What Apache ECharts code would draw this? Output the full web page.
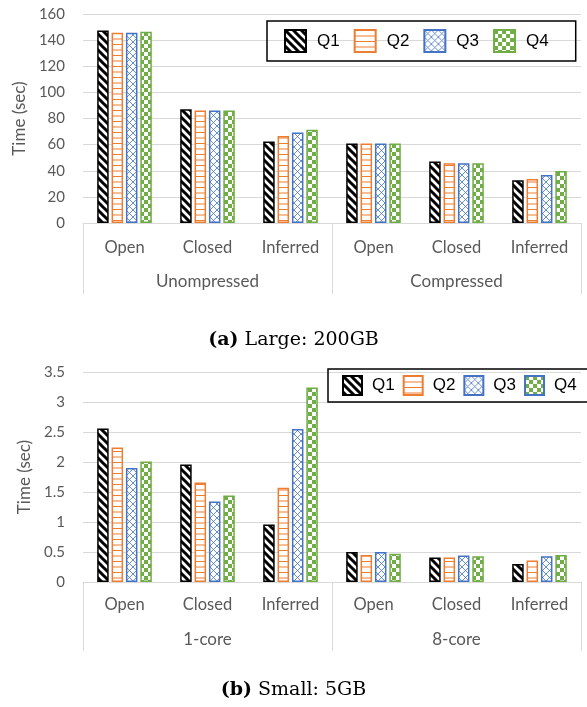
<!DOCTYPE html>
<html>
<head>
<meta charset="utf-8">
<script src="https://cdn.jsdelivr.net/npm/echarts@6/dist/echarts.min.js"></script>
<style>
  html, body { margin: 0; padding: 0; background: #fff; }
  #main { width: 587px; height: 707px; }
</style>
</head>
<body>
<div id="main"></div>
<script>
// categories
var methods = ['Open', 'Closed', 'Inferred', 'Open', 'Closed', 'Inferred'];
var largeGroups = ['Unompressed', 'Compressed'];
var smallGroups = ['1-core', '8-core'];
var queries = ['Q1', 'Q2', 'Q3', 'Q4'];

// (a) Large: 200GB, time in sec
var largeQ1 = [147.4, 87.1, 62.4, 60.8, 47.0, 32.7];
var largeQ2 = [145.6, 86.1, 66.6, 60.8, 45.8, 33.7];
var largeQ3 = [145.6, 86.1, 69.3, 60.8, 45.8, 36.7];
var largeQ4 = [146.4, 86.1, 71.4, 60.8, 45.8, 39.8];

// (b) Small: 5GB, time in sec
var smallQ1 = [2.56, 1.96, 0.96, 0.50, 0.41, 0.30];
var smallQ2 = [2.24, 1.66, 1.57, 0.45, 0.41, 0.36];
var smallQ3 = [1.90, 1.34, 2.55, 0.50, 0.44, 0.43];
var smallQ4 = [2.01, 1.44, 3.24, 0.47, 0.43, 0.45];

// pattern fills, like the excel hatch fills
function makePattern(kind) {
    var c = document.createElement('canvas');
    var ctx = c.getContext('2d');
    if (kind === 'diag') {
        c.width = 8; c.height = 8;
        ctx.fillStyle = '#fff'; ctx.fillRect(0, 0, 8, 8);
        ctx.strokeStyle = '#000'; ctx.lineWidth = 3;
        ctx.beginPath();
        ctx.moveTo(-4, -4); ctx.lineTo(12, 12);
        ctx.moveTo(-4, 4); ctx.lineTo(4, 12);
        ctx.moveTo(4, -4); ctx.lineTo(12, 4);
        ctx.stroke();
    } else if (kind === 'horiz') {
        c.width = 4; c.height = 11;
        ctx.fillStyle = '#fff'; ctx.fillRect(0, 0, 4, 11);
        ctx.fillStyle = '#ED7D31';
        ctx.fillRect(0, 0, 4, 1);
        ctx.fillRect(0, 5.5, 4, 1);
    } else if (kind === 'cross') {
        c.width = 7; c.height = 7;
        ctx.fillStyle = '#fff'; ctx.fillRect(0, 0, 7, 7);
        ctx.strokeStyle = '#4472C4'; ctx.lineWidth = 0.8;
        ctx.beginPath();
        ctx.moveTo(0, 0); ctx.lineTo(7, 7);
        ctx.moveTo(7, 0); ctx.lineTo(0, 7);
        ctx.stroke();
    } else {
        c.width = 8; c.height = 8;
        ctx.fillStyle = '#fff'; ctx.fillRect(0, 0, 8, 8);
        ctx.fillStyle = '#70AD47';
        ctx.fillRect(0, 0, 4, 4);
        ctx.fillRect(4, 4, 4, 4);
    }
    return { image: c, repeat: 'repeat' };
}

var fills = [makePattern('diag'), makePattern('horiz'), makePattern('cross'), makePattern('check')];
var borders = ['#000000', '#ED7D31', '#4472C4', '#70AD47'];

var grey = '#595959';
var lightLine = '#d9d9d9';
var font = 'Lato';

function barSeries(name, i, data, axisIdx) {
    return {
        name: name,
        type: 'bar',
        xAxisIndex: axisIdx,
        yAxisIndex: axisIdx / 2,
        data: data,
        barWidth: 11.5,
        barGap: '25%',
        itemStyle: { color: fills[i], borderColor: borders[i], borderWidth: 1.5 },
        emphasis: { disabled: true }
    };
}

function catAxis(gridIndex, margin) {
    return {
        type: 'category', gridIndex: gridIndex, data: methods,
        axisLine: { lineStyle: { color: lightLine } },
        axisTick: { show: false },
        axisLabel: { color: grey, fontFamily: font, fontSize: 16.5, margin: margin, interval: 0 }
    };
}

function groupAxis(gridIndex, groups, tickLen, margin) {
    return {
        type: 'category', gridIndex: gridIndex, data: groups, position: 'bottom',
        axisLine: { show: false },
        axisTick: { show: true, length: tickLen, lineStyle: { color: lightLine } },
        axisLabel: { color: grey, fontFamily: font, fontSize: 17, margin: margin, interval: 0 }
    };
}

function valAxis(gridIndex, max, interval) {
    return {
        type: 'value', gridIndex: gridIndex, min: 0, max: max, interval: interval,
        name: 'Time (sec)', nameLocation: 'middle', nameGap: 48,
        nameTextStyle: { color: grey, fontFamily: font, fontSize: 17 },
        axisLine: { show: false },
        axisTick: { show: false },
        splitLine: { lineStyle: { color: lightLine } },
        axisLabel: { color: grey, fontFamily: font, fontSize: 15, margin: 18 }
    };
}

var legendText = { fontFamily: 'Liberation Sans', fontSize: 17, color: '#000' };
var captionStyle = {
    fontFamily: 'DejaVu Serif', fontSize: 19, fontWeight: 'normal', color: '#000',
    rich: { b: { fontFamily: 'DejaVu Serif', fontSize: 19, fontWeight: 'bold', color: '#000' } }
};

var chart = echarts.init(document.getElementById('main'));
chart.setOption({
    animation: false,
    title: [
        { text: '{b|(a)} Large: 200GB', left: 'center', top: 326, textStyle: captionStyle },
        { text: '{b|(b)} Small: 5GB', left: 'center', top: 676, textStyle: captionStyle }
    ],
    legend: [
        {
            data: queries, left: 267, top: 21, icon: 'rect',
            itemWidth: 21, itemHeight: 22, itemGap: 14,
            padding: [8, 27, 8, 17],
            borderColor: '#000', borderWidth: 1.5,
            textStyle: Object.assign({ padding: [0, 0, 0, 6] }, legendText),
            selectedMode: false
        },
        {
            data: [
                { name: 'Q1' }, { name: 'Q2' }, { name: 'Q3' },
                { name: 'Q4', itemStyle: { borderColor: '#4472C4' } }
            ],
            left: 328, top: 369, width: 240, icon: 'rect',
            itemWidth: 19, itemHeight: 19, itemGap: 8,
            padding: [6, 16, 6, 14],
            borderColor: '#000', borderWidth: 1.5,
            textStyle: Object.assign({ padding: [0, 0, 0, 5] }, legendText),
            selectedMode: false
        }
    ],
    grid: [
        { left: 83, top: 14, width: 498, height: 209 },
        { left: 83, top: 372, width: 498, height: 210 }
    ],
    xAxis: [
        catAxis(0, 16),
        groupAxis(0, largeGroups, 71, 50),
        catAxis(1, 14),
        groupAxis(1, smallGroups, 69, 49)
    ],
    yAxis: [
        valAxis(0, 160, 20),
        valAxis(1, 3.5, 0.5)
    ],
    series: [
        barSeries('Q1', 0, largeQ1, 0),
        barSeries('Q2', 1, largeQ2, 0),
        barSeries('Q3', 2, largeQ3, 0),
        barSeries('Q4', 3, largeQ4, 0),
        barSeries('Q1', 0, smallQ1, 2),
        barSeries('Q2', 1, smallQ2, 2),
        barSeries('Q3', 2, smallQ3, 2),
        barSeries('Q4', 3, smallQ4, 2)
    ]
});
</script>
</body>
</html>
